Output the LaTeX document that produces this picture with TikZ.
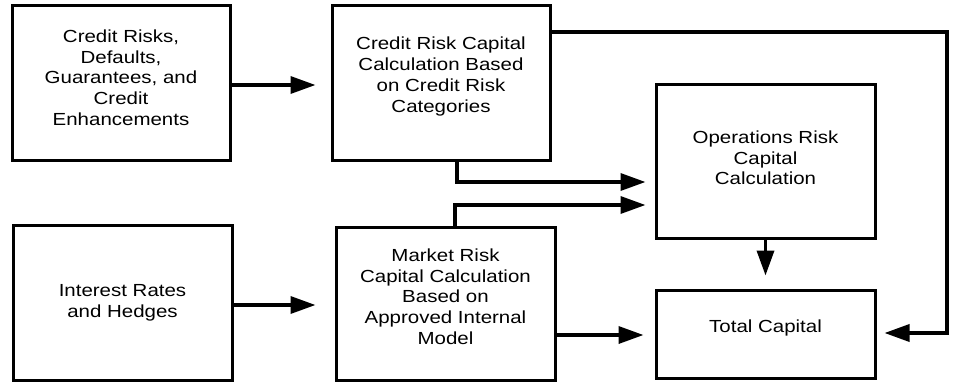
\documentclass[tikz,border=0pt]{standalone}
\usepackage{fontspec}
\setmainfont{Liberation Sans}[FakeStretch=1.17]
\usetikzlibrary{arrows.meta,calc,shadows}
\begin{document}
\begin{tikzpicture}[x=1pt,y=-1pt,
  box/.style={draw=black, line width=3pt, fill=white, inner sep=0pt,
    general shadow={fill=gray!70, shadow xshift=1.5pt, shadow yshift=-1.5pt}},
  txt/.style={align=center, inner sep=0pt, font=\fontsize{17.5}{20.7}\selectfont},
  arr/.style={line width=3.5pt, -{Triangle[length=25pt,width=17pt]}}]
\useasboundingbox (0,0) rectangle (953,383);
\node[box, minimum width=218pt, minimum height=155pt] (A) at (121,82.5) {};
\node[box, minimum width=218pt, minimum height=155pt] (B) at (441,82.5) {};
\node[box, minimum width=219pt, minimum height=154pt] (C) at (765.5,161) {};
\node[box, minimum width=219pt, minimum height=155pt] (D) at (122.5,302.5) {};
\node[box, minimum width=219pt, minimum height=153pt] (E) at (445.5,303.5) {};
\node[box, minimum width=219pt, minimum height=88pt] (F) at (765.5,334) {};
\node[txt] (At) at ($(A)+(0,-5)$) {Credit Risks,\\Defaults,\\Guarantees, and\\Credit\\Enhancements};
\node[txt] (Bt) at ($(B)+(0,-6)$) {Credit Risk Capital\\Calculation Based\\on Credit Risk\\Categories};
\node[txt] (Ct) at ($(C)+(0,-3)$) {Operations Risk\\Capital\\Calculation};
\node[txt] (Dt) at ($(D)+(0,0)$) {Interest Rates\\and Hedges};
\node[txt] (Et) at ($(E)+(0,-7)$) {Market Risk\\Capital Calculation\\Based on\\Approved Internal\\Model};
\node[txt] (Ft) at ($(F)+(0,-6)$) {Total Capital};
\coordinate (b1) at (457,160);
\coordinate (e1) at (455,227);
\coordinate (bf) at (947,32);
% A -> B
\draw[arr, shorten >=15pt] ($(A.east)+(0,2.5)$) -- ($(A.east -| B.west)+(0,2.5)$);
% D -> E
\draw[arr, shorten >=19pt] ($(D.east)+(0,2.5)$) -- ($(D.east -| E.west)+(0,2.5)$);
% B -> C
\draw[arr, shorten >=9pt] (b1) |- (C.west |- 0,182);
% E -> C
\draw[arr, shorten >=9pt] (e1) |- (C.west |- 0,205);
% C -> F
\draw[arr, shorten >=13pt] (C.south) -- (F.north);
% E -> F
\draw[arr, shorten >=11pt] (E.east |- 0,335) -- (F.west |- 0,335);
% B -> F
\draw[arr, shorten >=8pt] (B.east |- 0,32) -- (bf) |- (F.east |- 0,333);
\end{tikzpicture}
\end{document}
